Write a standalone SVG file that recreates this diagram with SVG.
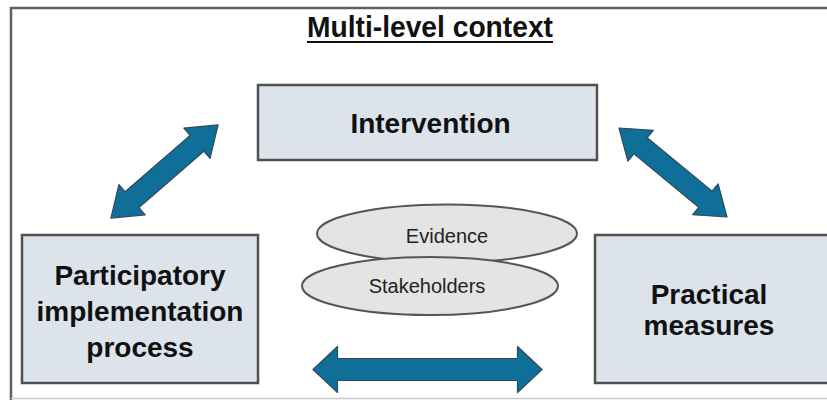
<svg xmlns="http://www.w3.org/2000/svg" width="827" height="400" viewBox="0 0 827 400">
<style>
.box{fill:#dce3eb;stroke:#505050;stroke-width:2.5}
.ell{fill:#e4e4e4;stroke:#555;stroke-width:2}
.big{font-family:"Liberation Sans",Arial,sans-serif;font-weight:bold;font-size:28px;fill:#111;text-anchor:middle}
.small{font-family:"Liberation Sans",Arial,sans-serif;font-size:20px;fill:#222;text-anchor:middle}
.arr{fill:#0f6f98;stroke:#2f4a5a;stroke-width:1.2;stroke-linejoin:round}
</style>
<rect x="0" y="0" width="827" height="400" fill="#fff"/>
<path d="M11,400 V8 H827" fill="none" stroke="#606060" stroke-width="2.5"/>
<line x1="11" y1="398.5" x2="827" y2="398.5" stroke="#c8c8c8" stroke-width="1.5"/>
<g id="title">
<text x="430" y="37" font-family="'Liberation Sans',Arial,sans-serif" font-weight="bold" font-size="29" fill="#111" text-anchor="middle" textLength="246" lengthAdjust="spacingAndGlyphs">Multi-level context</text>
<line x1="307" y1="42" x2="553" y2="42" stroke="#111" stroke-width="2"/>
</g>
<g id="connectors">
<polygon class="arr" transform="translate(164.5,171.5) rotate(-41)" points="-71,0 -43,-20 -43,-10.5 43,-10.5 43,-20 71,0 43,20 43,10.5 -43,10.5 -43,20"/>
<polygon class="arr" transform="translate(673,172.5) rotate(39.5)" points="-70,0 -42,-20 -42,-10.5 42,-10.5 42,-20 70,0 42,20 42,10.5 -42,10.5 -42,20"/>
<polygon class="arr" transform="translate(427.5,369.5)" points="-114.5,0 -90,-23 -90,-11 90,-11 90,-23 114.5,0 90,23 90,11 -90,11 -90,23"/>
</g>
<g id="intervention">
<rect class="box" x="258" y="85" width="339" height="75"/>
<text class="big" x="430.5" y="133">Intervention</text>
</g>
<g id="participatory">
<rect class="box" x="22" y="235" width="236" height="148"/>
<text class="big" x="140" y="285">Participatory</text>
<text class="big" x="140" y="321">implementation</text>
<text class="big" x="140" y="357">process</text>
</g>
<g id="practical">
<rect class="box" x="595" y="235" width="240" height="148"/>
<text class="big" x="709" y="304">Practical</text>
<text class="big" x="709" y="335">measures</text>
</g>
<g id="evidence">
<ellipse class="ell" cx="447" cy="233.5" rx="130" ry="29"/>
<text class="small" x="447" y="243">Evidence</text>
</g>
<g id="stakeholders">
<ellipse class="ell" cx="430" cy="286" rx="128" ry="29"/>
<text class="small" x="427" y="293">Stakeholders</text>
</g>
</svg>
